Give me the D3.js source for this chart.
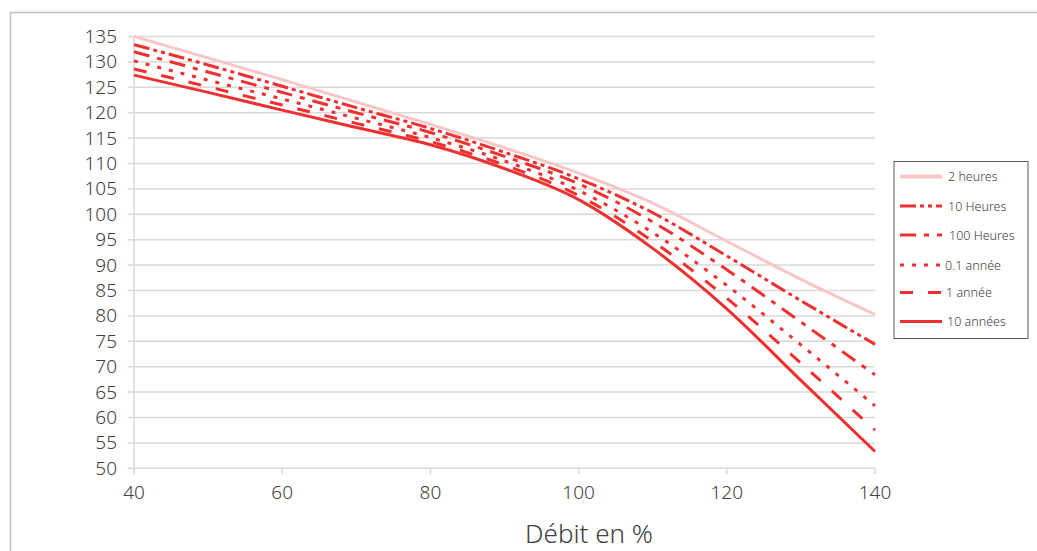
<!DOCTYPE html>
<html>
<head>
<meta charset="utf-8">
<script src="https://cdn.jsdelivr.net/npm/d3@7"></script>
<style>
 body { margin: 0; background: #fff; }
 text { font-family: "Noto Sans", "Open Sans", sans-serif; }
</style>
</head>
<body>
<div id="svgcontainer"></div>
<script>
var debit = [40, 50, 60, 70, 80, 90, 100, 110, 120, 130, 140];
var deuxHeures = [135, 130.8, 126.5, 122.1, 117.7, 113.1, 108.1, 102.2, 94.7, 87.2, 80.3];
var dixHeures = [133.4, 129.4, 125.2, 121.0, 116.9, 112.2, 107.0, 100.3, 91.8, 83.0, 74.4];
var centHeures = [132.0, 128.0, 124.0, 120.0, 116.1, 111.4, 106.0, 98.5, 89.1, 78.8, 68.4];
var dixiemeAnnee = [130.2, 126.4, 122.7, 118.9, 115.1, 110.5, 104.7, 96.4, 86.0, 74.3, 62.3];
var uneAnnee = [128.6, 125.1, 121.5, 117.9, 114.3, 109.7, 103.7, 94.7, 83.5, 70.7, 57.5];
var dixAnnees = [127.4, 124.0, 120.5, 117.1, 113.7, 109.0, 102.9, 93.3, 81.4, 67.3, 53.3];
var seriesNames = ["2 heures", "10 Heures", "100 Heures", "0.1 année", "1 année", "10 années"];
var yTicks = d3.range(50, 136, 5);
var xTicks = [40, 60, 80, 100, 120, 140];

var w = 1037, h = 551;
var redCOLOR = "#ee3030", gridCOLOR = "#d9d9d9", textCOLOR = "#404040";
var styles = [
 { color: "#f8c6c6", dash: null },
 { color: redCOLOR, dash: "16,4,4,4,4,4" },
 { color: redCOLOR, dash: "16,8,5,8" },
 { color: redCOLOR, dash: "4,8" },
 { color: redCOLOR, dash: "13,15" },
 { color: redCOLOR, dash: null }
];
var allSeries = [deuxHeures, dixHeures, centHeures, dixiemeAnnee, uneAnnee, dixAnnees];

var mysvg = d3.select("#svgcontainer").append("svg").attr("width", w).attr("height", h);
var x = d3.scaleLinear().domain([40, 140]).range([134, 875]),
 y = d3.scaleLinear().domain([50, 135]).range([468.3, 36.5]);

// chart frame (only top and left visible)
mysvg.append("line").attr("x1", 10.5).attr("x2", 10.5).attr("y1", 12.5).attr("y2", h).attr("stroke", "#bfbfbf").attr("stroke-width", 1.5);
mysvg.append("line").attr("x1", 10).attr("x2", w).attr("y1", 12.5).attr("y2", 12.5).attr("stroke", "#bfbfbf").attr("stroke-width", 1.5);

// horizontal grid
mysvg.append("g").selectAll("line").data(yTicks).enter().append("line")
 .attr("x1", 128).attr("x2", x(140))
 .attr("y1", function (d) { return y(d); }).attr("y2", function (d) { return y(d); })
 .attr("stroke", gridCOLOR).attr("stroke-width", 1.5);
mysvg.append("line").attr("x1", x(40)).attr("x2", x(40)).attr("y1", y(135)).attr("y2", y(50) + 6).attr("stroke", gridCOLOR).attr("stroke-width", 1.5);
mysvg.append("g").selectAll("line").data(xTicks).enter().append("line")
 .attr("x1", function (d) { return x(d); }).attr("x2", function (d) { return x(d); })
 .attr("y1", y(50)).attr("y2", y(50) + 6)
 .attr("stroke", gridCOLOR).attr("stroke-width", 1.5);

// tick labels
mysvg.append("g").selectAll("text").data(yTicks).enter().append("text")
 .attr("x", 117).attr("y", function (d) { return y(d) + 6.5; })
 .attr("text-anchor", "end").attr("font-size", 19).attr("font-weight", 300).attr("fill", textCOLOR)
 .text(function (d) { return d; });
mysvg.append("g").selectAll("text").data(xTicks).enter().append("text")
 .attr("x", function (d) { return x(d); }).attr("y", 499)
 .attr("text-anchor", "middle").attr("font-size", 19).attr("font-weight", 300).attr("fill", textCOLOR)
 .text(function (d) { return d; });
mysvg.append("text").attr("x", 589).attr("y", 543).attr("text-anchor", "middle")
 .attr("font-size", 26).attr("font-weight", 300).attr("fill", textCOLOR).text("Débit en %");

// series
var line = d3.line().x(function (d, i) { return x(debit[i]); }).y(function (d) { return y(d); }).curve(d3.curveMonotoneX);
allSeries.forEach(function (s, i) {
 mysvg.append("path").attr("d", line(s)).attr("fill", "none")
  .attr("stroke", styles[i].color).attr("stroke-width", 3)
  .attr("stroke-dasharray", styles[i].dash);
});

// legend
var legend = mysvg.append("g");
legend.append("rect").attr("x", 894).attr("y", 161.5).attr("width", 134).attr("height", 177)
 .attr("fill", "#fff").attr("stroke", "#595959").attr("stroke-width", 1);
var legendY = [176.5, 206, 235, 265, 292.5, 321.5], legendTX = [948, 948, 949, 945, 946, 947];
seriesNames.forEach(function (name, i) {
 legend.append("line").attr("x1", 900).attr("x2", 942).attr("y1", legendY[i]).attr("y2", legendY[i])
  .attr("stroke", styles[i].color).attr("stroke-width", i === 0 ? 4 : 3).attr("stroke-dasharray", styles[i].dash);
 legend.append("text").attr("x", legendTX[i]).attr("y", legendY[i] + 4.5)
  .attr("font-size", 12.5).attr("font-weight", 300).attr("fill", textCOLOR).text(name);
});
</script>
</body>
</html>
